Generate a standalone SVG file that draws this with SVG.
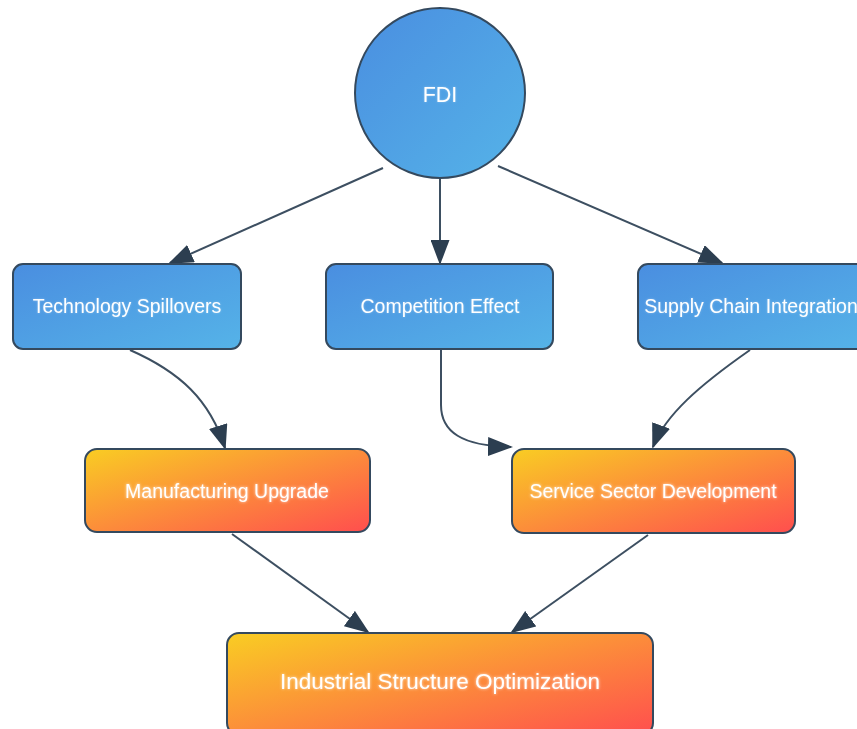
<svg xmlns="http://www.w3.org/2000/svg" width="857" height="729" viewBox="0 0 857 729">
<defs>
<linearGradient id="blue" x1="0" y1="0" x2="1" y2="1">
<stop offset="0" stop-color="#4a8ee0"/>
<stop offset="1" stop-color="#55b3e8"/>
</linearGradient>
<linearGradient id="orange" x1="0" y1="0" x2="1" y2="1">
<stop offset="0" stop-color="#f9cd23"/>
<stop offset="0.5" stop-color="#fc8d3a"/>
<stop offset="1" stop-color="#ff4e4e"/>
</linearGradient>
<filter id="glow" x="-10%" y="-40%" width="120%" height="180%">
<feGaussianBlur in="SourceAlpha" stdDeviation="1.5" result="b"/>
<feFlood flood-color="#ffffff" flood-opacity="0.75"/>
<feComposite in2="b" operator="in" result="g"/>
<feMerge><feMergeNode in="g"/><feMergeNode in="SourceGraphic"/></feMerge>
</filter>
<filter id="soft" x="-10%" y="-40%" width="120%" height="180%">
<feGaussianBlur in="SourceAlpha" stdDeviation="1" result="b"/>
<feFlood flood-color="#ffffff" flood-opacity="0.3"/>
<feComposite in2="b" operator="in" result="g"/>
<feMerge><feMergeNode in="g"/><feMergeNode in="SourceGraphic"/></feMerge>
</filter>
<marker id="arrow" markerUnits="userSpaceOnUse" markerWidth="25" markerHeight="19" refX="23" refY="9.5" orient="auto">
<path d="M0,0 L25,9.5 L0,19 Z" fill="#2c3e50"/>
</marker>
<style>
.edge{fill:none;stroke:#3d4f61;stroke-width:2;marker-end:url(#arrow)}
.blue{fill:url(#blue);stroke:#34495e;stroke-width:2}
.orange{fill:url(#orange);stroke:#34495e;stroke-width:2}
.t{font-family:"Liberation Sans",Arial,sans-serif;fill:#ffffff;text-anchor:middle;dominant-baseline:central;font-size:19.5px}
.tb{filter:url(#soft)}
.to{filter:url(#glow)}
.big{font-size:22.5px}
.fdi{font-size:21.5px}
</style>
</defs>
<g id="connectors">
<path class="edge" d="M383,168 L170,263"/>
<path class="edge" d="M440,179 L440,263"/>
<path class="edge" d="M498,166 L722,263"/>
<path class="edge" d="M130,350 C180,372 210,400 225,448"/>
<path class="edge" d="M441,350 L441,405 C441,432 462,446 511,447"/>
<path class="edge" d="M750,350 C700,385 665,415 653,447"/>
<path class="edge" d="M232,534 L368,632"/>
<path class="edge" d="M648,535 L512,632"/>
</g>
<g id="node-fdi">
<circle class="blue" cx="440" cy="93" r="85"/>
<text class="t tb fdi" x="440" y="95">FDI</text>
</g>
<g id="node-tech">
<rect class="blue" x="13" y="264" width="228" height="85" rx="10"/>
<text class="t tb" x="127" y="306">Technology Spillovers</text>
</g>
<g id="node-comp">
<rect class="blue" x="326" y="264" width="227" height="85" rx="10"/>
<text class="t tb" x="440" y="306">Competition Effect</text>
</g>
<g id="node-supply">
<rect class="blue" x="638" y="264" width="228" height="85" rx="10"/>
<text class="t tb" x="751" y="306">Supply Chain Integration</text>
</g>
<g id="node-manu">
<rect class="orange" x="85" y="449" width="285" height="83" rx="12"/>
<text class="t to" x="227" y="491">Manufacturing Upgrade</text>
</g>
<g id="node-service">
<rect class="orange" x="512" y="449" width="283" height="84" rx="12"/>
<text class="t to" x="653" y="491">Service Sector Development</text>
</g>
<g id="node-industrial">
<rect class="orange" x="227" y="633" width="426" height="102" rx="12"/>
<text class="t to big" x="440" y="681">Industrial Structure Optimization</text>
</g>
</svg>
